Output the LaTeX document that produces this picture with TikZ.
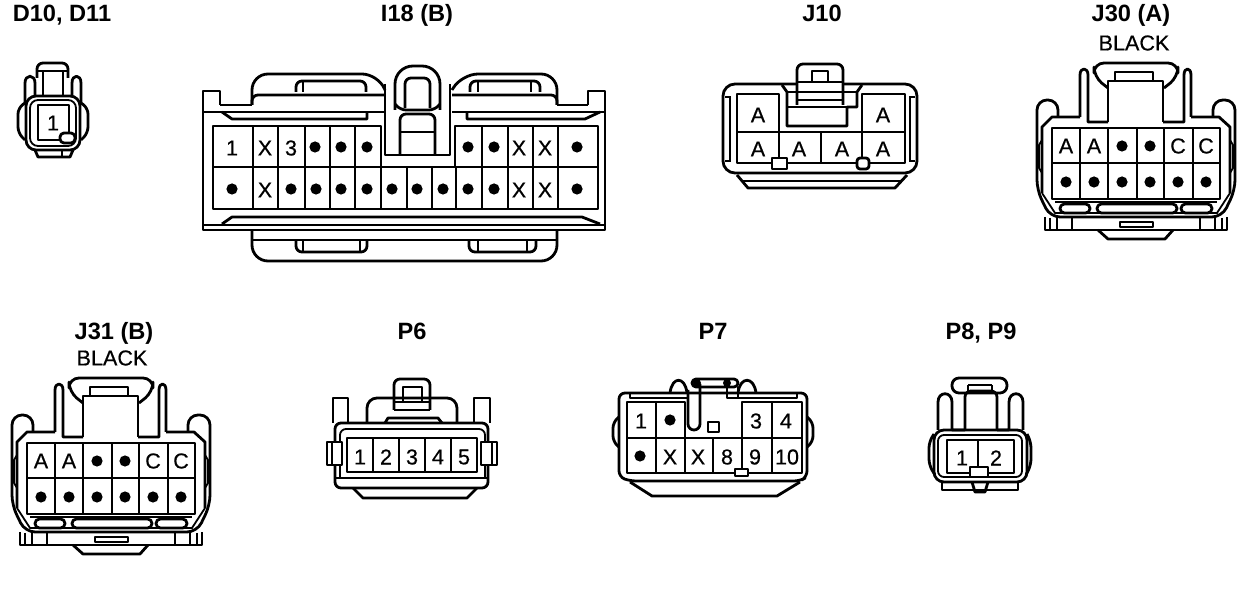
\documentclass[tikz,border=0pt]{standalone}
\usepackage{fontspec}
\setmainfont{Liberation Sans}
\newfontfamily\pinfont[FakeBold=0.5]{Liberation Sans}
\usetikzlibrary{positioning}

% housing shared by J30 and J31, in J30 pixel positions
\newcommand{\jhousing}{
	% latch and neck
	\draw[part, rounded corners=5pt] (1108,88) -- (1094,77) -- (1094,63) -- (1178,63) -- (1178,77) -- (1164,88);
	\draw[part] (1115,80) -- (1115,72) -- (1153,72) -- (1153,80);
	\draw[part] (1108,122) -- (1108,81) -- (1163,81) -- (1163,122);
	% clips
	\draw[part] (1080,117) -- (1080,75) .. controls (1080,67) and (1088,67) .. (1088,75) -- (1088,122) -- (1108,122);
	\draw[part] (1163,122) -- (1184,122) -- (1184,75) .. controls (1184,67) and (1191,67) .. (1191,75) -- (1191,117);
	% lobes and outer walls
	\draw[part, rounded corners=5pt] (1058,117) -- (1058,100) -- (1037,100) -- (1037,190) -- (1050,217) -- (1222,217) -- (1235,190) -- (1235,100) -- (1213,100) -- (1213,117);
	\draw[part] (1042,193) -- (1042,127) -- (1052,117) -- (1080,117);
	\draw[part] (1191,117) -- (1219,117) -- (1230,127) -- (1230,193);
	\draw[thinpart] (1042,193) -- (1055,213) -- (1217,213) -- (1230,193);
	\draw[thinpart] (1042,140) -- (1039,145) -- (1039,168) -- (1042,173);
	\draw[thinpart] (1230,140) -- (1233,145) -- (1233,168) -- (1230,173);
	% slots
	\draw[thinpart] (1055,202) -- (1217,202);
	\draw[part, rounded corners=2.2pt] (1060,204) rectangle (1090,213);
	\draw[part, rounded corners=2.2pt] (1097,204) rectangle (1177,213);
	\draw[part, rounded corners=2.2pt] (1181,204) rectangle (1212,213);
	% foot
	\draw[part] (1045,217) -- (1045,230) -- (1227,230) -- (1227,217);
	\draw[part] (1050,218) -- (1050,230) (1057,218) -- (1057,230) (1072,218) -- (1072,230);
	\draw[part] (1215,218) -- (1215,230) (1222,218) -- (1222,230) (1200,218) -- (1200,230);
	\draw[part] (1120,222) rectangle (1153,227);
	\draw[part] (1098,230) -- (1108,239) -- (1165,239) -- (1173,230);
	% pins
	\draw[part] (1052,128) rectangle (1220,199);
	\draw[part] (1052,163) -- (1220,163);
	\foreach \x in {1080,1108,1137,1164,1193}
		\draw[part] (\x,128) -- (\x,199);
	\path
		node[pin] (p1) at (1066,146) {A}
		node[pin] (p2) at (1094,146) {A}
		node[pdot] (p3) at (1122,146) {}
		node[pdot] (p4) at (1150,146) {}
		node[pin] (p5) at (1178,146) {C}
		node[pin] (p6) at (1206,146) {C}
	;
	\foreach \x [count=\i] in {1066,1094,1122,1150,1178,1206}
		\node[pdot] (q\i) at (\x,182) {};
}

\begin{document}
\begin{tikzpicture}[x=0.5pt, y=-0.5pt]
	\tikzstyle{part} = [draw, line width=1.4pt, line join=round]
	\tikzstyle{thinpart} = [draw, line width=0.9pt]
	\tikzstyle{round} = [rounded corners=3pt]
	\tikzstyle{title} = [inner sep=0pt, anchor=base, font=\bfseries\fontsize{11.8}{13}\selectfont]
	\tikzstyle{pin} = [inner sep=0pt, font=\pinfont\fontsize{10.8}{12}\selectfont]
	\tikzstyle{pdot} = [circle, fill, minimum size=5.6pt, inner sep=0pt]

	\useasboundingbox (0,0) rectangle (1248,614);

	% titles
	\path
		node[title] (d10) at (62,22) {D10, D11}
		node[title] (i18) at (417,22) {I18 (B)}
		node[title] (j10) at (822,22) {J10}
		node[title] (j30) at (1131,22) {J30 (A)}
		node[pin] (j30c) at (1134,43) {BLACK}
		node[title] (j31) at (114,340) {J31 (B)}
		node[pin] (j31c) at (112,358) {BLACK}
		node[title] (p6) at (412,340) {P6}
		node[title] (p7) at (713,340) {P7}
		node[title] (p8) at (981,340) {P8, P9}
	;

	% D10, D11
	\begin{scope}
		\draw[part, round] (37,78) -- (37,63) -- (68,63) -- (68,78);
		\draw[part] (37,71) -- (68,71);
		\draw[part] (43,71) -- (43,95) (63,71) -- (63,95);
		\draw[part] (25,105) -- (25,83) .. controls (25,74) and (35,74) .. (35,83) -- (35,97);
		\draw[part] (72,97) -- (72,83) .. controls (72,74) and (81,74) .. (81,83) -- (81,105);
		\draw[part, rounded corners=5pt] (26,96) rectangle (80,150);
		\draw[thinpart, rounded corners=4pt] (30,100) rectangle (76,146);
		\draw[part, round] (25,103) -- (18,108) -- (18,133) -- (25,140);
		\draw[part, round] (81,103) -- (88,108) -- (88,133) -- (81,140);
		\draw[part] (38,105) rectangle (69,140);
		\draw[part, fill=white, rounded corners=2pt] (60,133) rectangle (75,143);
		\draw[part] (35,150) -- (38,157) -- (70,157) -- (73,150);
		\draw[part] (62,150) -- (62,157);
		\node[pin] (d1) at (53,123) {1};
	\end{scope}

	% I18 (B)
	\begin{scope}
		\draw[part] (220,105) -- (220,91) -- (203,91) -- (203,230) -- (605,230) -- (605,91) -- (588,91) -- (588,105);
		\draw[part] (203,112) -- (384,112) (452,112) -- (605,112);
		\draw[part] (220,105) -- (252,105) (557,105) -- (588,105);
		\draw[part, rounded corners=8pt] (252,105) -- (252,74) -- (378,74) -- (385,90);
		\draw[part, rounded corners=8pt] (452,90) -- (462,74) -- (557,74) -- (557,105);
		\draw[part, round] (252,105) -- (252,95) -- (384,95);
		\draw[part, round] (452,95) -- (557,95) -- (557,105);
		\draw[part, round] (296,92) -- (296,81) -- (366,81) -- (366,92);
		\draw[part] (303,81) -- (303,92);
		\draw[part, round] (470,92) -- (470,81) -- (540,81) -- (540,92);
		\draw[part] (478,81) -- (478,92) (531,81) -- (531,92);
		\draw[part] (222,112) -- (232,119) -- (367,119) -- (367,112);
		\draw[part] (467,112) -- (467,119) -- (585,119) -- (600,112);
		% latch
		\draw[part] (385,84) -- (385,155) -- (450,155) -- (450,84);
		\draw[part, rounded corners=9pt] (395,110) -- (395,66) -- (440,66) -- (440,110);
		\draw[part, round] (405,108) -- (405,78) -- (430,78) -- (430,108);
		\draw[part, round] (395,104) -- (400,110) -- (435,110) -- (440,104);
		\draw[part, round] (400,155) -- (400,114) -- (435,114) -- (435,155);
		\draw[part] (400,132) -- (435,132);
		% pin cells
		\draw[part] (381,167) -- (381,126) -- (213,126) -- (213,209) -- (598,209) -- (598,126) -- (455,126) -- (455,167);
		\draw[part] (213,167) -- (598,167);
		\foreach \x in {253,278,305,330,355}
			\draw[part] (\x,126) -- (\x,209);
		\foreach \x in {482,508,533,558}
			\draw[part] (\x,126) -- (\x,209);
		\foreach \x in {381,407,432,456}
			\draw[part] (\x,167) -- (\x,209);
		\path
			node[pin] (ia1) at (232,148) {1}
			node[pin] (ia2) at (265,148) {X}
			node[pin] (ia3) at (291,148) {3}
			node[pin] (ia4) at (519,148) {X}
			node[pin] (ia5) at (545,148) {X}
			node[pin] (ib1) at (265,190) {X}
			node[pin] (ib2) at (519,190) {X}
			node[pin] (ib3) at (545,190) {X}
		;
		\foreach \x [count=\i] in {315,341,367,468,494,577}
			\node[pdot] (ic\i) at (\x,147) {};
		\foreach \x [count=\i] in {232,291,316,341,367,392,417,443,468,494,577}
			\node[pdot] (id\i) at (\x,189) {};
		% lower part
		\draw[part] (222,224) -- (232,217) -- (582,217) -- (600,224);
		\draw[part] (203,225) -- (605,225);
		\draw[part, rounded corners=8pt] (252,230) -- (252,261) -- (557,261) -- (557,230);
		\draw[part] (252,240) -- (557,240);
		\draw[part, round] (296,241) -- (296,252) -- (367,252) -- (367,241);
		\draw[part] (303,241) -- (303,252) (360,241) -- (360,252);
		\draw[part, round] (469,241) -- (469,252) -- (536,252) -- (536,241);
		\draw[part] (478,241) -- (478,252) (527,241) -- (527,252);
	\end{scope}

	% J10
	\begin{scope}
		\draw[part, rounded corners=6pt] (797,84) -- (723,84) -- (723,173) -- (917,173) -- (917,84) -- (843,84);
		\draw[thinpart] (725,97) -- (730,97) -- (730,161) -- (725,161);
		\draw[thinpart] (915,97) -- (910,97) -- (910,161) -- (915,161);
		\draw[part] (737,175) -- (748,188) -- (895,188) -- (907,175);
		\draw[thinpart] (743,181) -- (901,181);
		% latch
		\draw[part, round] (797,105) -- (797,64) -- (843,64) -- (843,105);
		\draw[part] (812,82) -- (812,71) -- (828,71) -- (828,82);
		\draw[part] (797,82) -- (843,82) (787,92) -- (857,92) (797,100) -- (843,100);
		\draw[part] (782,85) -- (787,92) -- (787,126) -- (847,126) -- (847,107) -- (857,107) -- (857,92) -- (862,85);
		\draw[part] (787,107) -- (847,107);
		% pin cells
		\draw[part] (779,132) -- (779,94) -- (737,94) -- (737,163) -- (905,163) -- (905,94) -- (862,94) -- (862,132);
		\draw[part] (737,132) -- (905,132);
		\foreach \x in {779,821,862}
			\draw[part] (\x,132) -- (\x,163);
		\draw[part, fill=white] (772,158) rectangle (787,169);
		\draw[part, fill=white, rounded corners=1.5pt] (857,158) rectangle (869,169);
		\path
			node[pin] (ja1) at (758,115) {A}
			node[pin] (ja2) at (883,115) {A}
			node[pin] (jb1) at (758,149) {A}
			node[pin] (jb2) at (799,149) {A}
			node[pin] (jb3) at (842,149) {A}
			node[pin] (jb4) at (883,149) {A}
		;
	\end{scope}

	% J30 (A)
	\begin{scope}[name prefix=ja-]
		\jhousing
	\end{scope}

	% J31 (B)
	\begin{scope}[shift={(-1025,315)}, name prefix=jb-]
		\jhousing
	\end{scope}

	% P6
	\begin{scope}
		\draw[part, round] (394,410) -- (394,379) -- (430,379) -- (430,410);
		\draw[part] (403,402) -- (403,387) -- (422,387) -- (422,402);
		\draw[part] (394,402) -- (430,402) (394,410) -- (430,410);
		\draw[part, rounded corners=5pt] (367,423) -- (367,398) -- (457,398) -- (457,423);
		\draw[part] (385,423) -- (388,418) -- (438,418) -- (442,423);
		\draw[part] (333,423) -- (333,398) -- (348,398) -- (348,423);
		\draw[part] (474,423) -- (474,398) -- (490,398) -- (490,423);
		\draw[part, round] (335,488) -- (335,423) -- (488,423) -- (488,488) -- cycle;
		\draw[thinpart, round] (340,478) -- (340,429) -- (485,429) -- (485,478);
		\draw[part] (335,478) -- (488,478);
		\draw[part] (353,488) -- (363,498) -- (467,498) -- (477,488);
		\draw[part, fill=white] (327,442) rectangle (342,465);
		\draw[part] (332,442) -- (332,465);
		\draw[part, fill=white] (481,442) rectangle (497,465);
		\draw[part] (492,442) -- (492,465);
		\draw[part] (347,438) rectangle (477,472);
		\foreach \x in {373,399,425,451}
			\draw[part] (\x,438) -- (\x,472);
		\foreach \x [count=\i] in {360,386,412,438,464}
			\node[pin] (pf\i) at (\x,457) {\i};
	\end{scope}

	% P7
	\begin{scope}
		\draw[part, round] (619,477) -- (619,393) -- (807,393) -- (807,477) -- (800,481) -- (630,481) -- cycle;
		\draw[part] (630,393) -- (630,398) -- (688,398) (738,398) -- (797,398) -- (797,393);
		\draw[part] (630,482) -- (652,496) -- (777,496) -- (800,482);
		\draw[part, round] (619,417) -- (613,422) -- (613,442) -- (619,447);
		\draw[part, round] (807,417) -- (813,422) -- (813,442) -- (807,447);
		\draw[part] (670,393) .. controls (672,376) and (685,376) .. (687,393);
		\draw[part] (738,393) .. controls (740,376) and (754,376) .. (756,393);
		\draw[part, rounded corners=2pt] (692,379) rectangle (738,387);
		\fill (697,383) circle[radius=2pt] (727,383) circle[radius=2pt];
		\draw[part, round] (688,390) -- (688,430) -- (700,430) -- (700,384);
		\draw[part] (727,384) -- (727,398) -- (738,398) -- (738,387);
		\draw[part] (708,422) rectangle (719,432);
		% pin cells
		\draw[part] (685,438) -- (685,402) -- (627,402) -- (627,473) -- (802,473) -- (802,402) -- (742,402) -- (742,438);
		\draw[part] (627,438) -- (802,438);
		\foreach \x in {656,685,713,742,772}
			\draw[part] (\x,438) -- (\x,473);
		\draw[part] (656,402) -- (656,438) (772,402) -- (772,438);
		\draw[part, fill=white] (735,469) rectangle (748,476);
		\path
			node[pin] (pa1) at (641,421) {1}
			node[pdot] (pa2) at (670,420) {}
			node[pin] (pa3) at (756,421) {3}
			node[pin] (pa4) at (786,421) {4}
			node[pdot] (pb1) at (640,456) {}
			node[pin] (pb2) at (670,457) {X}
			node[pin] (pb3) at (698,457) {X}
			node[pin] (pb4) at (727,457) {8}
			node[pin] (pb5) at (755,457) {9}
			node[pin] (pb6) at (787,457) {10}
		;
	\end{scope}

	% P8, P9
	\begin{scope}
		\draw[part, rounded corners=3.5pt] (952,378) rectangle (1007,393);
		\draw[part] (968,385) -- (968,393) (992,385) -- (992,393) (968,385) -- (992,385);
		\draw[part, round] (965,430) -- (965,391) -- (997,391) -- (997,430);
		\draw[part] (938,430) -- (938,402) .. controls (938,391) and (952,391) .. (952,402) -- (952,430) -- (965,430);
		\draw[part] (997,430) -- (1009,430) -- (1009,402) .. controls (1009,391) and (1023,391) .. (1023,402) -- (1023,430);
		\draw[part, rounded corners=5pt] (934,430) rectangle (1027,482);
		\draw[thinpart, rounded corners=3pt] (938,435) rectangle (1022,477);
		\draw[part, round] (934,434) -- (929,442) -- (929,465) -- (935,475);
		\draw[part, round] (1027,434) -- (1031,442) -- (1031,465) -- (1026,475);
		\draw[part] (947,440) rectangle (1014,473);
		\draw[part] (978,440) -- (978,473);
		\draw[part, fill=white] (970,467) rectangle (988,477);
		\draw[part] (942,482) -- (942,490) -- (1018,490) -- (1018,482);
		\draw[part] (972,482) -- (975,492) -- (985,492) -- (988,482);
		\path
			node[pin] (pg1) at (962,458) {1}
			node[pin] (pg2) at (996,458) {2}
		;
	\end{scope}
\end{tikzpicture}
\end{document}
